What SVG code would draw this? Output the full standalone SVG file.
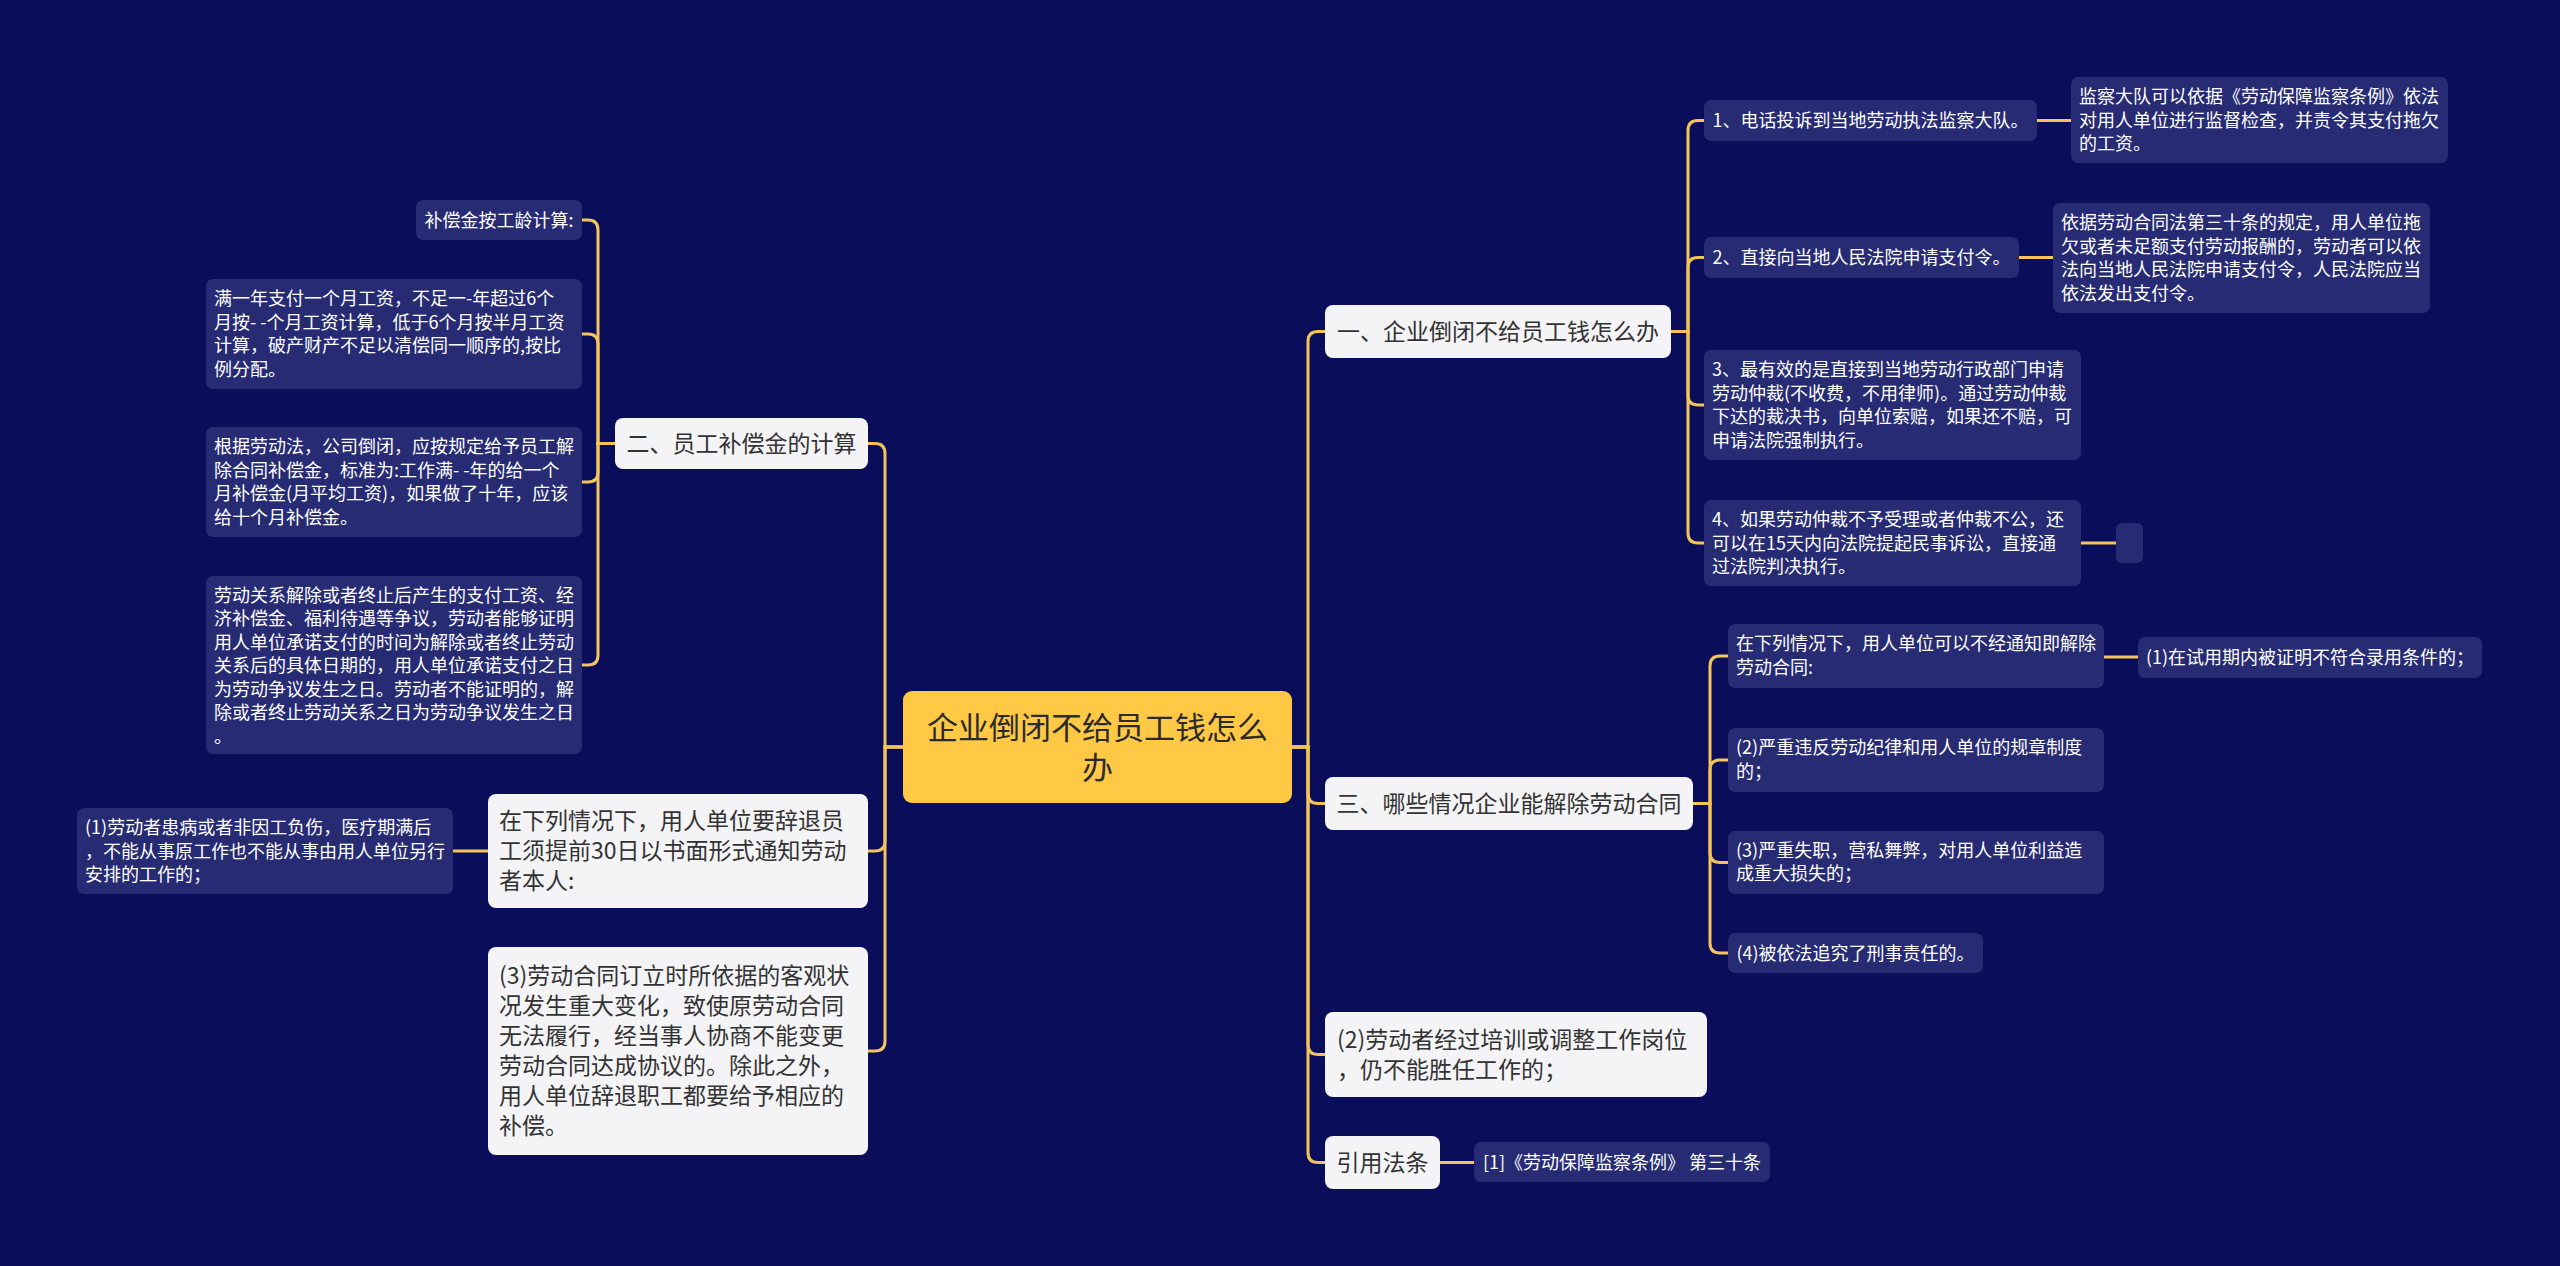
<svg xmlns="http://www.w3.org/2000/svg" width="2560" height="1266" viewBox="0 0 2560 1266">
<style>
.bg{fill:#0a0e5a}
.dk{fill:#262b73}
.wt{fill:#f4f4f6}
.ct{fill:#ffc845}
.t18{font-family:"Noto Sans CJK SC","Noto Sans",sans-serif;font-size:18px;fill:#ffffff}
.t23{font-family:"Noto Sans CJK SC","Noto Sans",sans-serif;font-size:23px;fill:#333333}
.t31{font-family:"Noto Sans CJK SC","Noto Sans",sans-serif;font-size:31px;fill:#2b2b2b}
.m{text-anchor:middle}
.cn{fill:none;stroke:#f2c45a;stroke-width:3}
</style>
<rect class="bg" x="0" y="0" width="2560" height="1266"/>
<g id="connectors">
<path class="cn" d="M1292 747 H1308 V341.5 Q1308 331.5 1318 331.5 H1325"/>
<path class="cn" d="M1292 747 H1308 V793.5 Q1308 803.5 1318 803.5 H1325"/>
<path class="cn" d="M1292 747 H1308 V1044.5 Q1308 1054.5 1318 1054.5 H1325"/>
<path class="cn" d="M1292 747 H1308 V1152.5 Q1308 1162.5 1318 1162.5 H1325"/>
<path class="cn" d="M903 747 H885 V453.5 Q885 443.5 875 443.5 H868"/>
<path class="cn" d="M903 747 H885 V841 Q885 851 875 851 H868"/>
<path class="cn" d="M903 747 H885 V1041 Q885 1051 875 1051 H868"/>
<path class="cn" d="M615 443.5 H598 V230 Q598 220 588 220 H582"/>
<path class="cn" d="M615 443.5 H598 V344 Q598 334 588 334 H582"/>
<path class="cn" d="M615 443.5 H598 V472 Q598 482 588 482 H582"/>
<path class="cn" d="M615 443.5 H598 V655 Q598 665 588 665 H582"/>
<path class="cn" d="M488 851 H453"/>
<path class="cn" d="M1671 331.5 H1688 V130.5 Q1688 120.5 1698 120.5 H1704"/>
<path class="cn" d="M1671 331.5 H1688 V267.5 Q1688 257.5 1698 257.5 H1704"/>
<path class="cn" d="M1671 331.5 H1688 V395 Q1688 405 1698 405 H1704"/>
<path class="cn" d="M1671 331.5 H1688 V533 Q1688 543 1698 543 H1704"/>
<path class="cn" d="M2037 120.5 H2071"/>
<path class="cn" d="M2019 257.5 H2053"/>
<path class="cn" d="M2081 543 H2116"/>
<path class="cn" d="M1693 803.5 H1710 V666 Q1710 656 1720 656 H1728"/>
<path class="cn" d="M1693 803.5 H1710 V770 Q1710 760 1720 760 H1728"/>
<path class="cn" d="M1693 803.5 H1710 V852.5 Q1710 862.5 1720 862.5 H1728"/>
<path class="cn" d="M1693 803.5 H1710 V943 Q1710 953 1720 953 H1728"/>
<path class="cn" d="M2104 657 H2138"/>
<path class="cn" d="M1440 1162.5 H1474"/>
</g>
<g id="center">
<rect class="ct" x="903" y="691" width="389" height="112" rx="9"/>
<text class="t31 m" x="1097.5" y="739">企业倒闭不给员工钱怎么</text>
<text class="t31 m" x="1097.5" y="779">办</text>
</g>
<g id="n-er">
<rect class="wt" x="615" y="418" width="253" height="51" rx="8"/>
<text class="t23 m" x="741.5" y="451.5">二、员工补偿金的计算</text>
</g>
<g id="n-bc">
<rect class="dk" x="416" y="200" width="166" height="40" rx="7"/>
<text class="t18 m" x="499" y="226.5">补偿金按工龄计算:</text>
</g>
<g id="n-my">
<rect class="dk" x="206" y="279" width="376" height="110" rx="7"/>
<text class="t18" x="214"><tspan x="214" y="305">满一年支付一个月工资，不足一-年超过6个</tspan><tspan x="214" y="328.5">月按- -个月工资计算，低于6个月按半月工资</tspan><tspan x="214" y="352">计算，破产财产不足以清偿同一顺序的,按比</tspan><tspan x="214" y="375.5">例分配。</tspan></text>
</g>
<g id="n-gj">
<rect class="dk" x="206" y="427" width="376" height="110" rx="7"/>
<text class="t18" x="214"><tspan x="214" y="453">根据劳动法，公司倒闭，应按规定给予员工解</tspan><tspan x="214" y="476.5">除合同补偿金，标准为:工作满- -年的给一个</tspan><tspan x="214" y="500">月补偿金(月平均工资)，如果做了十年，应该</tspan><tspan x="214" y="523.5">给十个月补偿金。</tspan></text>
</g>
<g id="n-ld">
<rect class="dk" x="206" y="576" width="376" height="178" rx="7"/>
<text class="t18" x="214"><tspan x="214" y="601.5">劳动关系解除或者终止后产生的支付工资、经</tspan><tspan x="214" y="625">济补偿金、福利待遇等争议，劳动者能够证明</tspan><tspan x="214" y="648.5">用人单位承诺支付的时间为解除或者终止劳动</tspan><tspan x="214" y="672">关系后的具体日期的，用人单位承诺支付之日</tspan><tspan x="214" y="695.5">为劳动争议发生之日。劳动者不能证明的，解</tspan><tspan x="214" y="719">除或者终止劳动关系之日为劳动争议发生之日</tspan><tspan x="214" y="742.5">。</tspan></text>
</g>
<g id="n-l1">
<rect class="dk" x="77" y="808" width="376" height="86" rx="7"/>
<text class="t18" x="85"><tspan x="85" y="834">(1)劳动者患病或者非因工负伤，医疗期满后</tspan><tspan x="85" y="857.5">，不能从事原工作也不能从事由用人单位另行</tspan><tspan x="85" y="881">安排的工作的；</tspan></text>
</g>
<g id="n-ct">
<rect class="wt" x="488" y="794" width="380" height="114" rx="8"/>
<text class="t23" x="499"><tspan x="499" y="829">在下列情况下，用人单位要辞退员</tspan><tspan x="499" y="859">工须提前30日以书面形式通知劳动</tspan><tspan x="499" y="889">者本人:</tspan></text>
</g>
<g id="n-l3">
<rect class="wt" x="488" y="947" width="380" height="208" rx="8"/>
<text class="t23" x="499"><tspan x="499" y="984">(3)劳动合同订立时所依据的客观状</tspan><tspan x="499" y="1014">况发生重大变化，致使原劳动合同</tspan><tspan x="499" y="1044">无法履行，经当事人协商不能变更</tspan><tspan x="499" y="1074">劳动合同达成协议的。除此之外，</tspan><tspan x="499" y="1104">用人单位辞退职工都要给予相应的</tspan><tspan x="499" y="1134">补偿。</tspan></text>
</g>
<g id="n-yi">
<rect class="wt" x="1325" y="305" width="346" height="53" rx="8"/>
<text class="t23 m" x="1498" y="339.5">一、企业倒闭不给员工钱怎么办</text>
</g>
<g id="n-r1">
<rect class="dk" x="1704" y="100" width="333" height="41" rx="7"/>
<text class="t18 m" x="1870.5" y="127">1、电话投诉到当地劳动执法监察大队。</text>
</g>
<g id="n-r1a">
<rect class="dk" x="2071" y="77" width="377" height="86" rx="7"/>
<text class="t18" x="2079"><tspan x="2079" y="103">监察大队可以依据《劳动保障监察条例》依法</tspan><tspan x="2079" y="126.5">对用人单位进行监督检查，并责令其支付拖欠</tspan><tspan x="2079" y="150">的工资。</tspan></text>
</g>
<g id="n-r2">
<rect class="dk" x="1704" y="237" width="315" height="41" rx="7"/>
<text class="t18 m" x="1861.5" y="264">2、直接向当地人民法院申请支付令。</text>
</g>
<g id="n-r2a">
<rect class="dk" x="2053" y="203" width="377" height="110" rx="7"/>
<text class="t18" x="2061"><tspan x="2061" y="229">依据劳动合同法第三十条的规定，用人单位拖</tspan><tspan x="2061" y="252.5">欠或者未足额支付劳动报酬的，劳动者可以依</tspan><tspan x="2061" y="276">法向当地人民法院申请支付令，人民法院应当</tspan><tspan x="2061" y="299.5">依法发出支付令。</tspan></text>
</g>
<g id="n-r3">
<rect class="dk" x="1704" y="350" width="377" height="110" rx="7"/>
<text class="t18" x="1712"><tspan x="1712" y="376">3、最有效的是直接到当地劳动行政部门申请</tspan><tspan x="1712" y="399.5">劳动仲裁(不收费，不用律师)。通过劳动仲裁</tspan><tspan x="1712" y="423">下达的裁决书，向单位索赔，如果还不赔，可</tspan><tspan x="1712" y="446.5">申请法院强制执行。</tspan></text>
</g>
<g id="n-r4">
<rect class="dk" x="1704" y="500" width="377" height="86" rx="7"/>
<text class="t18" x="1712"><tspan x="1712" y="526">4、如果劳动仲裁不予受理或者仲裁不公，还</tspan><tspan x="1712" y="549.5">可以在15天内向法院提起民事诉讼，直接通</tspan><tspan x="1712" y="573">过法院判决执行。</tspan></text>
</g>
<g id="n-r4a">
<rect class="dk" x="2116" y="523" width="27" height="40" rx="6"/>
</g>
<g id="n-san">
<rect class="wt" x="1325" y="777" width="368" height="53" rx="8"/>
<text class="t23 m" x="1509" y="811.5">三、哪些情况企业能解除劳动合同</text>
</g>
<g id="n-s1">
<rect class="dk" x="1728" y="624" width="376" height="64" rx="7"/>
<text class="t18" x="1736"><tspan x="1736" y="650">在下列情况下，用人单位可以不经通知即解除</tspan><tspan x="1736" y="673.5">劳动合同:</tspan></text>
</g>
<g id="n-s1a">
<rect class="dk" x="2138" y="637" width="344" height="41" rx="7"/>
<text class="t18 m" x="2310" y="664">(1)在试用期内被证明不符合录用条件的；</text>
</g>
<g id="n-s2">
<rect class="dk" x="1728" y="728" width="376" height="64" rx="7"/>
<text class="t18" x="1736"><tspan x="1736" y="754">(2)严重违反劳动纪律和用人单位的规章制度</tspan><tspan x="1736" y="777.5">的；</tspan></text>
</g>
<g id="n-s3">
<rect class="dk" x="1728" y="831" width="376" height="63" rx="7"/>
<text class="t18" x="1736"><tspan x="1736" y="856.5">(3)严重失职，营私舞弊，对用人单位利益造</tspan><tspan x="1736" y="880">成重大损失的；</tspan></text>
</g>
<g id="n-s4">
<rect class="dk" x="1728" y="933" width="255" height="40" rx="7"/>
<text class="t18 m" x="1855.5" y="959.5">(4)被依法追究了刑事责任的。</text>
</g>
<g id="n-r5">
<rect class="wt" x="1325" y="1012" width="382" height="85" rx="8"/>
<text class="t23" x="1337"><tspan x="1337" y="1047.5">(2)劳动者经过培训或调整工作岗位</tspan><tspan x="1337" y="1077.5">，仍不能胜任工作的；</tspan></text>
</g>
<g id="n-yy">
<rect class="wt" x="1325" y="1136" width="115" height="53" rx="8"/>
<text class="t23 m" x="1382.5" y="1170.5">引用法条</text>
</g>
<g id="n-yy1">
<rect class="dk" x="1474" y="1142" width="296" height="40" rx="7"/>
<text class="t18 m" x="1622" y="1168.5">[1]《劳动保障监察条例》 第三十条</text>
</g>
</svg>
